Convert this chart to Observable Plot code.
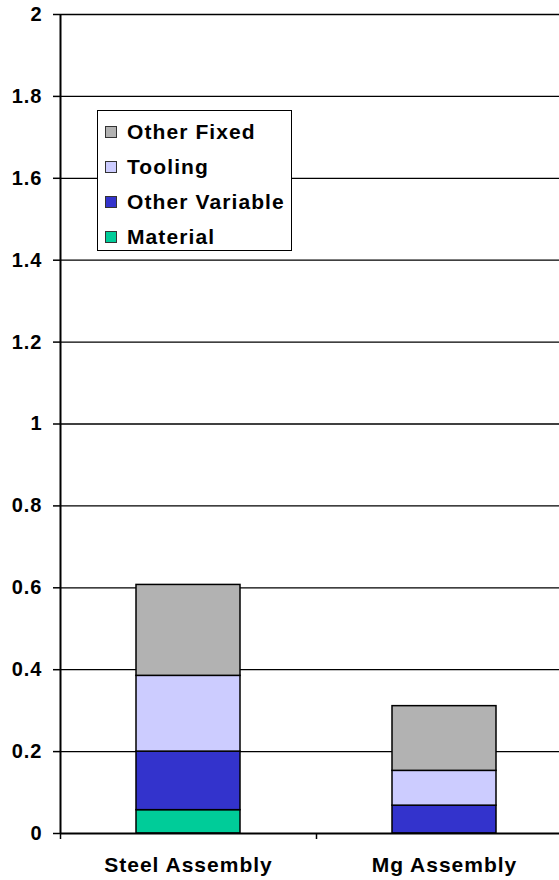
<!DOCTYPE html>
<html>
<head>
<meta charset="utf-8">
<script src="https://cdn.jsdelivr.net/npm/d3@7"></script>
<script src="https://cdn.jsdelivr.net/npm/@observablehq/plot@0.6"></script>
<style>
  html, body { margin: 0; padding: 0; background: #fff; overflow: hidden; }
  #wrap { position: relative; width: 559px; height: 880px; font-family: "Liberation Sans", Arial, sans-serif; }
  #legend {
    position: absolute; left: 97px; top: 110px; width: 195px; height: 141px;
    background: #fff; border: 1px solid #000; box-sizing: border-box;
    padding: 3px 0 0 7px;
  }
  .item { display: flex; align-items: center; height: 35px; font-weight: bold; font-size: 21px; letter-spacing: 1.1px; color: #000; white-space: nowrap; }
  .sw { width: 10px; height: 10px; border: 1px solid #333; margin-right: 10px; flex: none; }
</style>
</head>
<body>
<div id="wrap"><div id="legend"></div></div>
<script>
// Cost per assembly, stacked by cost element
const categories = ["Steel Assembly", "Mg Assembly"];
const series = ["Material", "Other Variable", "Tooling", "Other Fixed"];
const material = [0.057, 0];
const otherVariable = [0.143, 0.068];
const tooling = [0.185, 0.085];
const otherFixed = [0.222, 0.158];
const colors = ["#00cc99", "#3333cc", "#ccccff", "#b2b2b2"];
const yTicks = [0, 0.2, 0.4, 0.6, 0.8, 1, 1.2, 1.4, 1.6, 1.8, 2];
const yTickLabels = ["0", "0.2", "0.4", "0.6", "0.8", "1", "1.2", "1.4", "1.6", "1.8", "2"];
const legendOrder = ["Other Fixed", "Tooling", "Other Variable", "Material"];

const valuesBySeries = [material, otherVariable, tooling, otherFixed];
const rows = [];
series.forEach((s, si) => {
  categories.forEach((c, ci) => rows.push({category: c, series: s, value: valuesBySeries[si][ci]}));
});

// Category bands continue past the right edge of the page
const xRange = [60, 572];
const step = (xRange[1] - xRange[0]) / categories.length;

const chart = Plot.plot({
  width: 559,
  height: 880,
  marginLeft: 60,
  marginRight: 0,
  marginTop: 14,
  marginBottom: 47,
  style: {fontFamily: "Liberation Sans, Arial, sans-serif", color: "#000", background: "transparent", overflow: "hidden"},
  x: {domain: categories, range: xRange, paddingInner: 0.594, paddingOuter: 0.297},
  y: {domain: [0, 2]},
  color: {domain: series, range: colors},
  marks: [
    Plot.ruleY(yTicks.slice(1), {stroke: "#000", strokeWidth: 1.3}),
    Plot.barY(rows, Plot.stackY({x: "category", y: "value", fill: "series", order: series, stroke: "#000", strokeWidth: 1.5})),
    Plot.ruleY([0], {stroke: "#000", strokeWidth: 2}),
    Plot.ruleX([categories[0]], {x: d => d, y1: 0, y2: 2, dx: -step / 2, stroke: "#000", strokeWidth: 2}),
    Plot.ruleX(categories, {x: d => d, y1: 0, y2: 0, dx: -step / 2, insetBottom: -6, stroke: "#000", strokeWidth: 1.5}),
    Plot.axisY({ticks: yTicks, tickFormat: (d, i) => yTickLabels[i], tickSize: 7, tickPadding: 11, fontSize: 20, fontWeight: "bold", stroke: "#000", strokeWidth: 1.5, label: null}),
    Plot.axisX({tickSize: 0, tickPadding: 24, fontSize: 21, fontWeight: "bold", label: null})
  ]
});
chart.querySelectorAll("text").forEach(t => t.style.letterSpacing = "1px");
document.getElementById("wrap").prepend(chart);

const legend = document.getElementById("legend");
legendOrder.forEach(name => {
  const item = document.createElement("div");
  item.className = "item";
  const sw = document.createElement("span");
  sw.className = "sw";
  sw.style.background = colors[series.indexOf(name)];
  item.appendChild(sw);
  item.appendChild(document.createTextNode(name));
  legend.appendChild(item);
});
</script>
</body>
</html>
